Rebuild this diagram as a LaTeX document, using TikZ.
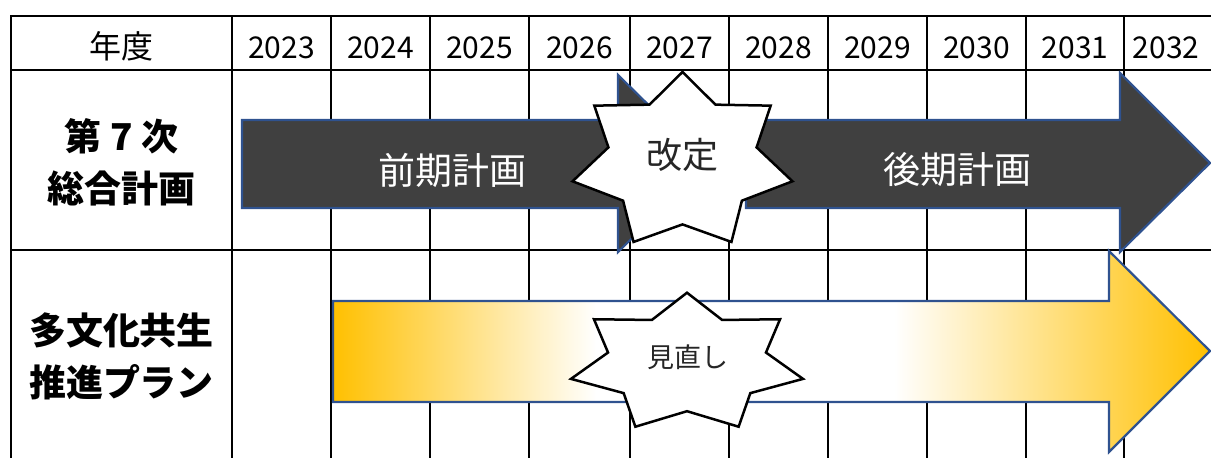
\documentclass[tikz,border=0pt]{standalone}
\usepackage{fontspec}
\newfontfamily\jp{Noto Sans CJK JP}
\definecolor{arrowblue}{HTML}{2F528F}
\definecolor{darkfill}{HTML}{404040}
\definecolor{gold}{HTML}{FFC000}
\pgfdeclarehorizontalshading{goldwhitegold}{100bp}{color(0bp)=(gold); color(25bp)=(gold); color(40bp)=(white); color(57bp)=(white); color(75bp)=(gold); color(100bp)=(gold)}
\newcommand\drawstar[5]{%
  \draw[starline,shift={(#1)}] (90:#2pt and #3pt)
  \foreach \k [evaluate=\k as \aa using {90+\k*180/7},
               evaluate=\k as \rr using {mod(\k,2)==0 ? #2 : #4},
               evaluate=\k as \ss using {mod(\k,2)==0 ? #3 : #5}] in {1,...,13}
  { -- (\aa:\rr pt and \ss pt) } -- cycle;}
\begin{document}
\begin{tikzpicture}[x=1pt,y=-1pt,
  gridline/.style={line width=2pt,black},
  yearlbl/.style={font={\jp\fontsize{30}{34}\selectfont},inner sep=0pt},
  headlbl/.style={font={\jp\fontsize{32}{36}\selectfont},inner sep=0pt},
  rowlbl/.style={font={\jp\bfseries\fontsize{37}{52}\selectfont},align=center,inner sep=0pt},
  darkarrow/.style={fill=darkfill,draw=arrowblue,line width=2.2pt,line join=miter},
  goldarrow/.style={shading=goldwhitegold,draw=arrowblue,line width=2.2pt,line join=miter},
  starline/.style={fill=white,draw=black,line width=2.5pt,line join=miter},
  plantext/.style={font={\jp\fontsize{37}{44}\selectfont},text=white,inner sep=0pt},
  startext/.style={font={\jp\fontsize{36}{42}\selectfont},text=black!85,inner sep=0pt},
  smallstartext/.style={font={\jp\fontsize{27}{32}\selectfont},text=black!85,inner sep=0pt}]
\useasboundingbox (0,0) rectangle (1211,458);
% grid
\draw[gridline] (11,460) -- (11,16) -- (1215,16);
\draw[gridline] (11,70) -- (1215,70);
\draw[gridline] (11,250) -- (1215,250);
\foreach \x in {232,331,430,529,630,729,828,927,1026,1124}
  \draw[gridline] (\x,16) -- (\x,460);
% header
\node[headlbl] (nendo) at (121.5,46) {年度};
\foreach \yr/\x in {2023/281.5,2024/380.5,2025/479.5,2026/579.5,2027/679.5,2028/778.5,2029/877.5,2030/976.5,2031/1075,2032/1166}
  \node[yearlbl] (y\yr) at (\x,47.5) {\yr};
% row labels
\node[rowlbl] (plan7) at (121.5,162) {第 7 次\\総合計画};
\node[rowlbl] (tabunka) at (121.5,356) {多文化共生\\推進プラン};
% gold arrow
\path[goldarrow] (333,301) -- (1109,301) -- (1109,251) -- (1210,351) -- (1109,452) -- (1109,402) -- (333,402) -- cycle;
% dark arrows
\path[darkarrow] (242,120) -- (618,120) -- (618,75) -- (708,163.5) -- (618,252) -- (618,208) -- (242,208) -- cycle;
\path[darkarrow] (746,120) -- (1120,120) -- (1120,73) -- (1210,163) -- (1120,252) -- (1120,208) -- (746,208) -- cycle;
\node[plantext] (zenki) at (452.5,170) {前期計画};
\node[plantext] (kouki) at (957,170) {後期計画};
% stars
\coordinate (star1) at (682.5,161.4);
\drawstar{star1}{112.8}{89.4}{76}{63}
\node[startext] (kaitei) at (682,155) {改定};
\coordinate (star2) at (687,363.2);
\drawstar{star2}{119}{70.5}{81}{48}
\node[smallstartext] (minaoshi) at (688,357) {見直し};
\end{tikzpicture}
\end{document}
